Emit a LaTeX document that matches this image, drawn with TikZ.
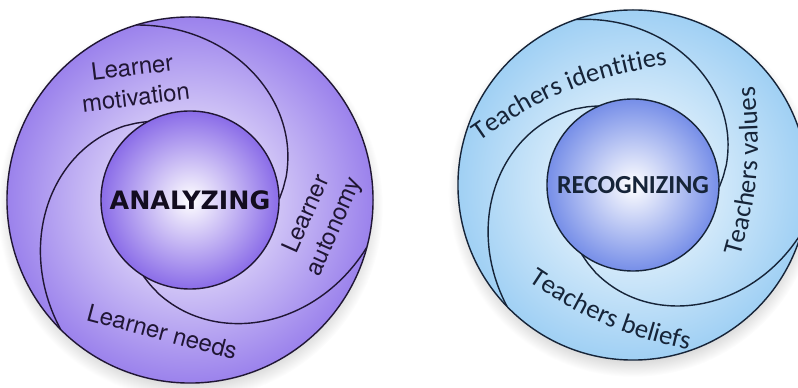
\documentclass[tikz,border=0pt]{standalone}
\usepackage{fontspec}
\setmainfont{TeX Gyre Heros}
\newfontfamily\carlito{Carlito}
\newfontfamily\dejavu{DejaVu Sans}
\usetikzlibrary{decorations.text}

\definecolor{lilac}{RGB}{155,130,236}
\definecolor{lilacball}{RGB}{138,108,232}
\definecolor{lilacink}{RGB}{32,22,52}
\definecolor{sky}{RGB}{160,208,244}
\definecolor{skyball}{RGB}{118,142,232}
\definecolor{skyink}{RGB}{22,36,56}

% soft grey disc used as a shadow under each wheel
\pgfdeclareradialshading{halo}{\pgfpointorigin}{color(0bp)=(black!38); color(20bp)=(black!32); color(25bp)=(white); color(50bp)=(white)}

\begin{document}
\begin{tikzpicture}[
  x=0.025cm, y=0.025cm,
  ring/.style={
    circle, draw=#1ink, line width=1pt,
    shade, inner color=white, outer color=#1
  },
  ball/.style={
    circle, draw=#1ink, line width=1pt,
    shade, inner color=white, outer color=#1ball,
    inner sep=0pt
  },
  swirl/.style={line width=1pt, draw=#1ink},
  lilactext/.style={
    text=lilacink, align=center, inner sep=0pt,
    font=\fontsize{17}{21.5}\selectfont
  },
]
\useasboundingbox (0,0) rectangle (798,388);

% --- Shadows ---
\shade[shading=halo] (190,181) circle (193);
\shade[shading=halo] (633,196) circle (185);

% --- Left wheel ---
\node[ring=lilac, minimum size=9.15cm] (analyzingRing) at (190,188) {};

\begin{scope}[shift={(analyzingRing.center)}]
  \draw[swirl=lilac] plot[smooth, domain=0.5:107, samples=50] ({\x}:{89+94*(\x/107)^1.1});
  \draw[swirl=lilac] plot[smooth, domain=0.5:107, samples=50] ({238+\x}:{89+94*(\x/107)^1.1});
  \draw[swirl=lilac] plot[smooth, domain=0.5:107, samples=50] ({118+\x}:{89+94*(\x/107)^1.1});
\end{scope}

\node[ball=lilac, minimum size=4.45cm, text=lilacink!60!black,
  font=\dejavu\bfseries\fontsize{18}{18}\selectfont]
  (analyzing) at (analyzingRing.center) {ANALYZING};

\node[lilactext, rotate=7] (motivation) at (134,306) {Learner\\motivation};
\node[lilactext, rotate=66] (autonomy) at (321,167) {Learner\\autonomy};
\node[lilactext, rotate=-15, anchor=base] (needs) at (160,48) {Learner needs};

% --- Right wheel ---
\node[ring=sky, minimum size=8.75cm] (recognizingRing) at (633,203) {};

\begin{scope}[shift={(recognizingRing.center)}]
  \draw[swirl=sky] plot[smooth, domain=0.5:111, samples=50] ({-2+\x}:{86+89*(\x/111)^1.1});
  \draw[swirl=sky] plot[smooth, domain=0.5:111, samples=50] ({233+\x}:{86+89*(\x/111)^1.1});
  \draw[swirl=sky] plot[smooth, domain=0.5:111, samples=50] ({113+\x}:{86+89*(\x/111)^1.1});
\end{scope}

\node[ball=sky, minimum size=4.3cm, text=skyink,
  font=\carlito\bfseries\fontsize{18.5}{18.5}\selectfont]
  (recognizing) at (recognizingRing.center) {RECOGNIZING};

% curved labels
\path[decorate, decoration={text along path, text align=center, text color=skyink,
  text={|\carlito\fontsize{19}{19}\selectfont|Teachers identities}}]
  (480,247) to[bend left=13] (667,323);
\path[decorate, decoration={text along path, text align=center, text color=skyink,
  text={|\carlito\fontsize{19}{19}\selectfont|Teachers values}}]
  (737,120) to[bend right=12] (753,313);
\path[decorate, decoration={text along path, text align=center, text color=skyink,
  text={|\carlito\fontsize{19}{19}\selectfont|Teachers beliefs}}]
  (525,109) to[bend right=11] (693,37);

\end{tikzpicture}
\end{document}
